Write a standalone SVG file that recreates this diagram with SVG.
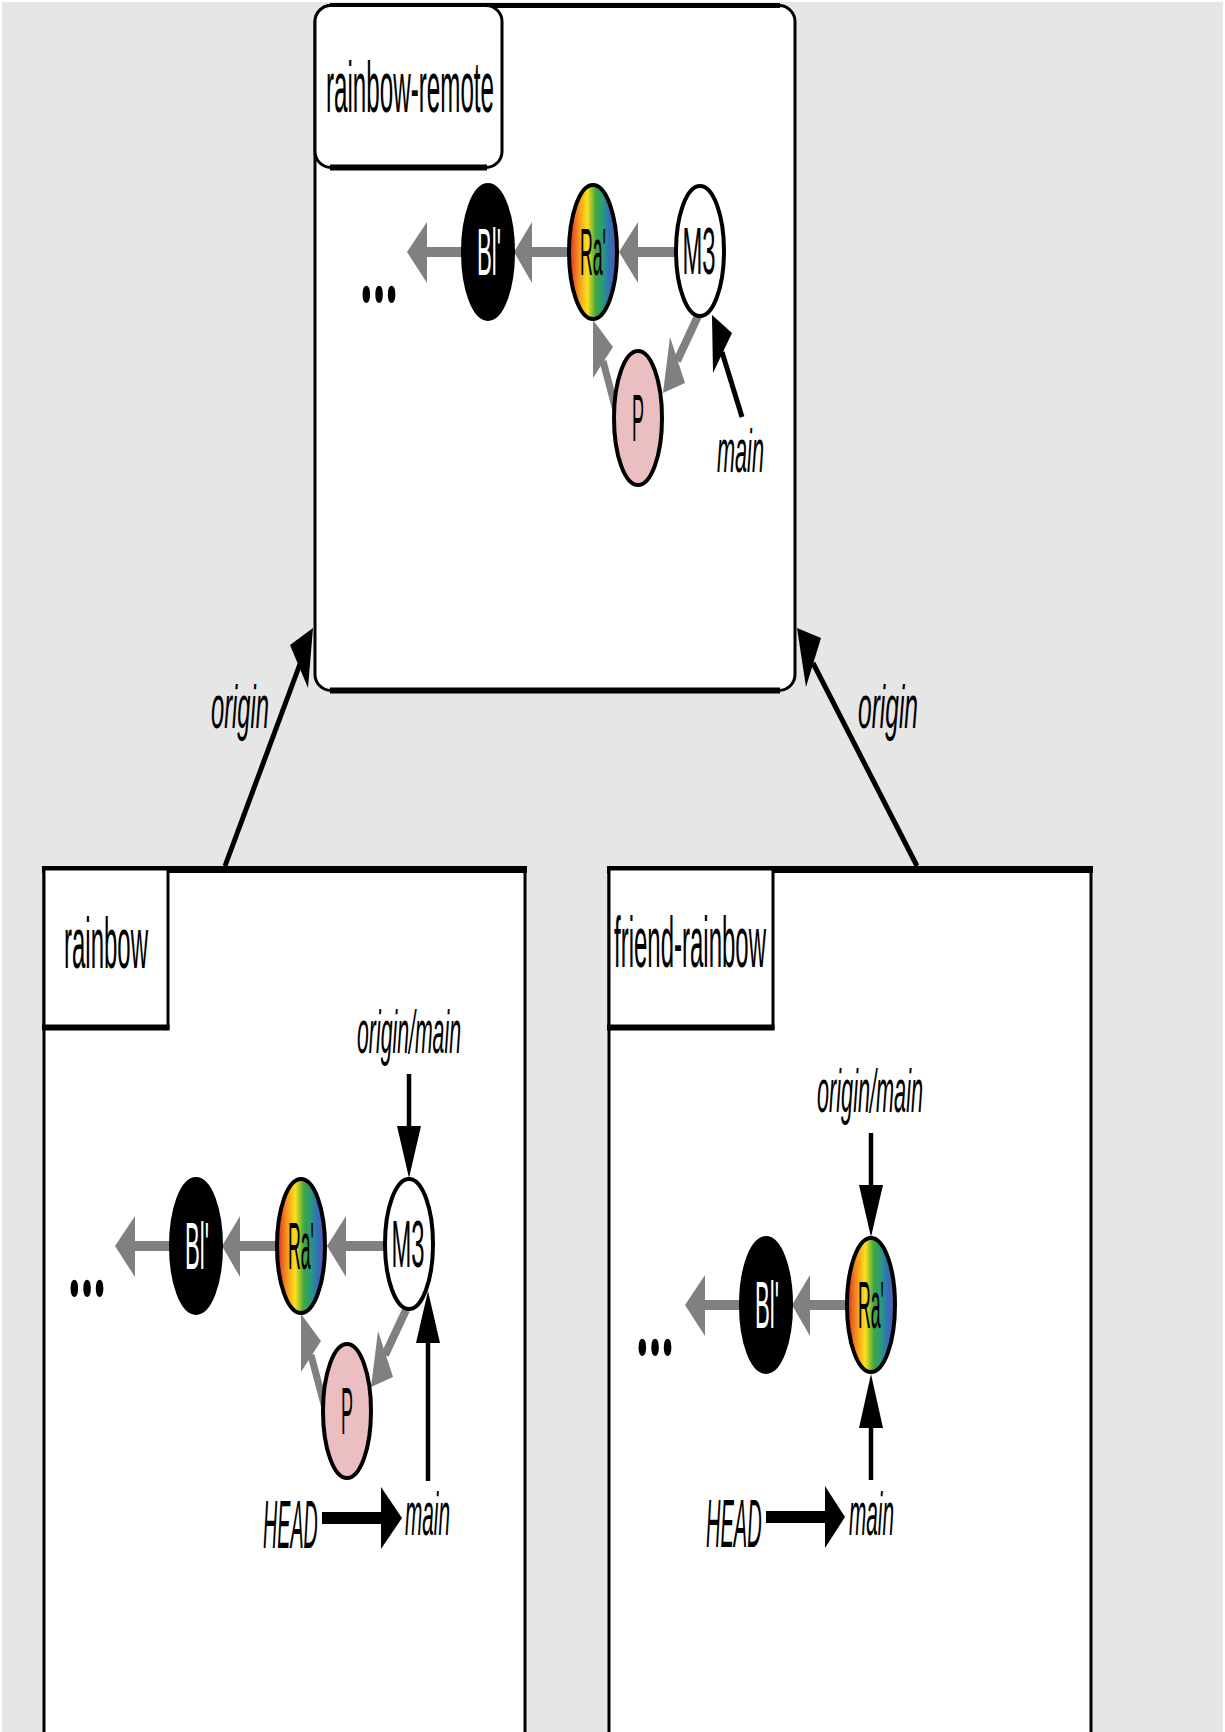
<svg xmlns="http://www.w3.org/2000/svg" width="1225" height="1732" viewBox="0 0 1225 1732">
<defs>
<linearGradient id="rainbow" x1="0" y1="0" x2="1" y2="0">
<stop offset="0" stop-color="#d9262b"/>
<stop offset="0.18" stop-color="#f5891f"/>
<stop offset="0.38" stop-color="#fce11e"/>
<stop offset="0.56" stop-color="#3fa73f"/>
<stop offset="0.70" stop-color="#2a9a7a"/>
<stop offset="0.84" stop-color="#2d72b8"/>
<stop offset="1" stop-color="#6d4c9e"/>
</linearGradient>
<style>
.bg{fill:#e6e6e6}
.box{fill:#fff;stroke:#000;stroke-width:3}
.edge{stroke:#000;stroke-width:6;fill:none}
.lbl{font-family:"Liberation Sans",Arial,sans-serif;font-size:72px;fill:#000;text-anchor:middle}
.nt{font-family:"Liberation Sans",Arial,sans-serif;font-size:66px;text-anchor:middle;fill:#000}
.wt{fill:#fff}
.it{font-family:"Liberation Sans",Arial,sans-serif;font-style:italic;font-size:62px;fill:#000}
.dots{font-family:"Open Sans","Noto Sans",sans-serif;font-weight:bold;font-size:104px;fill:#000}
.gl{stroke:#808080;fill:none}
.gh{fill:#808080}
.bl{stroke:#000;fill:none}
.bh{fill:#000}
.c{stroke:#000;stroke-width:4}
</style>
</defs>
<rect width="1225" height="1732" fill="#fff"/>
<rect class="bg" x="2" y="2" width="1221" height="1730"/>

<g id="repo-rainbow-remote">
<rect class="box" x="315" y="5.5" width="480" height="685" rx="16"/>
<line class="edge" x1="330" y1="5.5" x2="780" y2="5.5" style="stroke-width:5"/>
<line class="edge" x1="330" y1="690.5" x2="780" y2="690.5" style="stroke-width:6"/>
<rect class="box" x="315" y="5.5" width="187" height="162" rx="16"/>
<line class="edge" x1="330" y1="167.5" x2="487" y2="167.5" style="stroke-width:6"/>
<text class="lbl" x="410" y="112" textLength="168" lengthAdjust="spacingAndGlyphs">rainbow-remote</text>
</g>

<g id="repo-rainbow">
<rect class="box" x="44" y="869" width="481" height="900"/>
<line class="edge" x1="42" y1="869.5" x2="527" y2="869.5" style="stroke-width:7"/>
<rect class="box" x="44" y="869" width="124" height="159"/>
<line class="edge" x1="42" y1="1027.5" x2="169.5" y2="1027.5" style="stroke-width:6"/>
<text class="lbl" x="106" y="968" textLength="84" lengthAdjust="spacingAndGlyphs">rainbow</text>
</g>

<g id="repo-friend-rainbow">
<rect class="box" x="609" y="869" width="482" height="900"/>
<line class="edge" x1="607" y1="869.5" x2="1093" y2="869.5" style="stroke-width:7"/>
<rect class="box" x="609" y="869" width="164" height="159"/>
<line class="edge" x1="607" y1="1027.5" x2="774.5" y2="1027.5" style="stroke-width:6"/>
<text class="lbl" x="690" y="967" textLength="152" lengthAdjust="spacingAndGlyphs">friend-rainbow</text>
</g>

<g id="connectors">
<line class="bl" x1="225" y1="866" x2="300" y2="664" style="stroke-width:5"/>
<polygon class="bh" points="313,628 290,645 308,688"/>
<line class="bl" x1="917" y1="866" x2="813" y2="663" style="stroke-width:5"/>
<polygon class="bh" points="797,628 821,638 806,687"/>

<g id="remote-edges">
<line class="gl" x1="466" y1="252" x2="425" y2="252" style="stroke-width:10"/>
<polygon class="gh" points="407,252 427,222 427,283"/>
<line class="gl" x1="570" y1="252" x2="530" y2="252" style="stroke-width:10"/>
<polygon class="gh" points="514,252 532,222 532,283"/>
<line class="gl" x1="677" y1="252" x2="636" y2="252" style="stroke-width:10"/>
<polygon class="gh" points="619,252 638,222 638,283"/>
<line class="gl" x1="698" y1="316" x2="677" y2="361" style="stroke-width:8"/>
<polygon class="gh" points="663,393 670,337 685,383"/>
<line class="gl" x1="617" y1="414" x2="603" y2="361" style="stroke-width:7"/>
<polygon class="gh" points="593,320 593,378 613,347"/>
</g>
<line class="bl" x1="742" y1="417" x2="722" y2="352" style="stroke-width:5"/>
<polygon class="bh" points="712,315 713,373 732,333"/>

<g id="rainbow-edges" transform="translate(-292,994)">
<line class="gl" x1="466" y1="252" x2="425" y2="252" style="stroke-width:10"/>
<polygon class="gh" points="407,252 427,222 427,283"/>
<line class="gl" x1="570" y1="252" x2="530" y2="252" style="stroke-width:10"/>
<polygon class="gh" points="514,252 532,222 532,283"/>
<line class="gl" x1="677" y1="252" x2="636" y2="252" style="stroke-width:10"/>
<polygon class="gh" points="619,252 638,222 638,283"/>
<line class="gl" x1="698" y1="316" x2="677" y2="361" style="stroke-width:8"/>
<polygon class="gh" points="663,393 670,337 685,383"/>
<line class="gl" x1="617" y1="414" x2="603" y2="361" style="stroke-width:7"/>
<polygon class="gh" points="593,320 593,378 613,347"/>
</g>
<line class="bl" x1="409" y1="1074" x2="409" y2="1128" style="stroke-width:4.5"/>
<polygon class="bh" points="397,1126 421,1126 409,1178"/>
<line class="bl" x1="428" y1="1481" x2="428" y2="1341" style="stroke-width:4.5"/>
<polygon class="bh" points="416,1343 440,1343 428,1291"/>
<line class="bl" x1="322" y1="1518" x2="383" y2="1518" style="stroke-width:12"/>
<polygon class="bh" points="381,1487 381,1549 402,1518"/>

<g id="friend-edges" transform="translate(278,1053)">
<line class="gl" x1="466" y1="252" x2="425" y2="252" style="stroke-width:10"/>
<polygon class="gh" points="407,252 427,222 427,283"/>
<line class="gl" x1="570" y1="252" x2="530" y2="252" style="stroke-width:10"/>
<polygon class="gh" points="514,252 532,222 532,283"/>
</g>
<line class="bl" x1="871" y1="1133" x2="871" y2="1187" style="stroke-width:4.5"/>
<polygon class="bh" points="859,1185 883,1185 871,1237"/>
<line class="bl" x1="871" y1="1480" x2="871" y2="1426" style="stroke-width:4.5"/>
<polygon class="bh" points="859,1428 883,1428 871,1374"/>
<line class="bl" x1="766" y1="1517" x2="827" y2="1517" style="stroke-width:12"/>
<polygon class="bh" points="825,1486 825,1548 845,1517"/>
</g>

<g id="labels">
<text class="it" x="211" y="728" textLength="58" lengthAdjust="spacingAndGlyphs">origin</text>
<text class="it" x="858" y="728" textLength="60" lengthAdjust="spacingAndGlyphs">origin</text>
<text class="it" x="717" y="472" textLength="47" lengthAdjust="spacingAndGlyphs">main</text>
<text class="it" x="357" y="1053" textLength="104" lengthAdjust="spacingAndGlyphs">origin/main</text>
<text class="it" transform="translate(263,1548) scale(0.29,1)" x="0" y="0" style="font-size:68px">HEAD</text>
<text class="it" transform="translate(405,1535) scale(0.335,1)" x="0" y="0">main</text>
<text class="it" x="817" y="1112" textLength="106" lengthAdjust="spacingAndGlyphs">origin/main</text>
<text class="it" transform="translate(706,1547) scale(0.295,1)" x="0" y="0" style="font-size:68px">HEAD</text>
<text class="it" transform="translate(849,1535) scale(0.335,1)" x="0" y="0">main</text>
<text class="dots" x="360" y="302" textLength="38" lengthAdjust="spacingAndGlyphs">...</text>
<text class="dots" x="68" y="1296" textLength="38" lengthAdjust="spacingAndGlyphs">...</text>
<text class="dots" x="636" y="1355" textLength="38" lengthAdjust="spacingAndGlyphs">...</text>
</g>

<g id="remote-Bl">
<ellipse class="c" cx="488" cy="252" rx="25" ry="67" fill="#000"/>
<text class="nt wt" x="489" y="275" textLength="24" lengthAdjust="spacingAndGlyphs">Bl'</text>
</g>
<g id="remote-Ra">
<ellipse class="c" cx="593" cy="252" rx="24" ry="67" fill="url(#rainbow)"/>
<text class="nt" x="593" y="275" textLength="26" lengthAdjust="spacingAndGlyphs">Ra'</text>
</g>
<g id="remote-M3">
<ellipse class="c" cx="700" cy="251" rx="24" ry="65" fill="#fff"/>
<text class="nt" x="699" y="274" textLength="33" lengthAdjust="spacingAndGlyphs">M3</text>
</g>
<g id="remote-P">
<ellipse class="c" cx="638" cy="418" rx="24" ry="67" fill="#ebbfc1"/>
<text class="nt" x="638" y="441" textLength="12" lengthAdjust="spacingAndGlyphs">P</text>
</g>

<g id="rainbow-Bl">
<ellipse class="c" cx="196" cy="1246" rx="25" ry="67" fill="#000"/>
<text class="nt wt" x="197" y="1269" textLength="24" lengthAdjust="spacingAndGlyphs">Bl'</text>
</g>
<g id="rainbow-Ra">
<ellipse class="c" cx="301" cy="1246" rx="24" ry="67" fill="url(#rainbow)"/>
<text class="nt" x="301" y="1269" textLength="26" lengthAdjust="spacingAndGlyphs">Ra'</text>
</g>
<g id="rainbow-M3">
<ellipse class="c" cx="409" cy="1244" rx="24" ry="65" fill="#fff"/>
<text class="nt" x="408" y="1267" textLength="33" lengthAdjust="spacingAndGlyphs">M3</text>
</g>
<g id="rainbow-P">
<ellipse class="c" cx="347" cy="1411" rx="24" ry="67" fill="#ebbfc1"/>
<text class="nt" x="347" y="1434" textLength="12" lengthAdjust="spacingAndGlyphs">P</text>
</g>

<g id="friend-Bl">
<ellipse class="c" cx="766" cy="1305" rx="25" ry="67" fill="#000"/>
<text class="nt wt" x="767" y="1328" textLength="24" lengthAdjust="spacingAndGlyphs">Bl'</text>
</g>
<g id="friend-Ra">
<ellipse class="c" cx="871" cy="1305" rx="24" ry="67" fill="url(#rainbow)"/>
<text class="nt" x="871" y="1328" textLength="26" lengthAdjust="spacingAndGlyphs">Ra'</text>
</g>
</svg>
